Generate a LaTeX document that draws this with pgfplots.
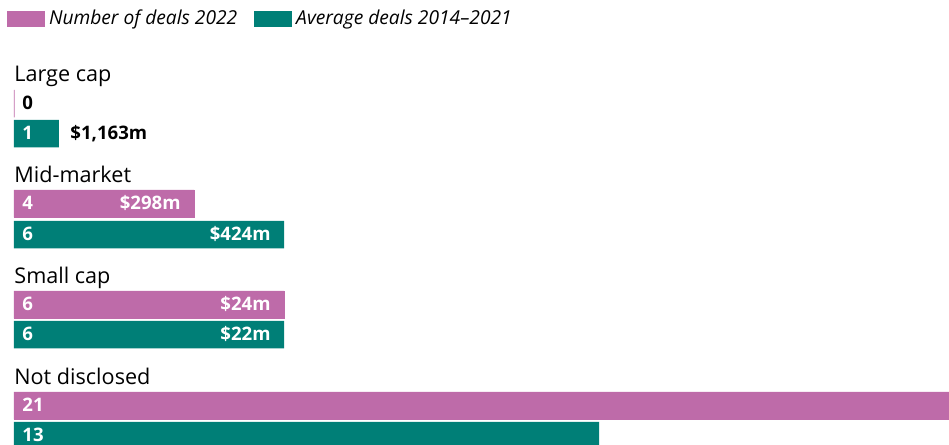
\documentclass[border=0pt]{standalone}
\usepackage{pgfplots}
\pgfplotsset{compat=1.18}
\usepackage{fontspec}
\setmainfont{Open Sans}
\definecolor{pinkc}{HTML}{BE6BA9}
\definecolor{tealc}{HTML}{007F77}
\begin{document}
\begin{tikzpicture}
\begin{axis}[
  scale only axis,
  width=474.5pt, height=222.5pt,
  xmin=-0.3111, xmax=20.7778,
  ymin=0, ymax=445, y dir=reverse,
  axis lines=none, ticks=none,
  clip=true,
  xbar, bar width=27.5, bar shift=0pt,
  legend style={at={(rel axis cs:0.0,1)}, anchor=north west, draw=none, fill=none,
    inner sep=0pt, outer sep=0pt, row sep=0pt,
    font=\fontsize{9.6}{11}\selectfont\itshape,
    /tikz/every even column/.append style={column sep=6.5pt},
    xshift=3.5pt, yshift=-3pt},
  legend columns=2,
  legend cell align=left,
  legend image code/.code={\path[#1,draw=none] (0pt,-4pt) rectangle (19pt,4pt);},
]
\addplot[fill=pinkc, draw=pinkc, line width=0.2pt] coordinates {(0,103.5) (4,203.5) (6,304.5) (21,405.5)};
\addlegendentry{Number of deals 2022}
\addplot[fill=tealc, draw=none] coordinates {(1,133.5) (6,234.5) (6,334.5) (13,435.5)};
\addlegendentry{Average deals 2014--2021}

% category labels
\tikzset{cat/.style={anchor=base west, inner sep=0pt, font=\fontsize{10.8}{12}\selectfont}}
\node[cat] at (axis cs:0,81) {Large cap};
\node[cat] at (axis cs:0,182.5) {Mid-market};
\node[cat] at (axis cs:0,283) {Small cap};
\node[cat] at (axis cs:0,384) {Not disclosed};
% count labels
\tikzset{cnt/.style={anchor=base west, inner sep=0pt, xshift=4pt, yshift=-3.2pt, font=\fontsize{9.3}{10}\selectfont\bfseries}}
\node[cnt, text=black] at (axis cs:0,103.5) {0};
\node[cnt, text=white] at (axis cs:0,133.5) {1};
\node[cnt, text=white] at (axis cs:0,203.5) {4};
\node[cnt, text=white] at (axis cs:0,234.5) {6};
\node[cnt, text=white] at (axis cs:0,304.5) {6};
\node[cnt, text=white] at (axis cs:0,334.5) {6};
\node[cnt, text=white] at (axis cs:0,405.5) {21};
\node[cnt, text=white] at (axis cs:0,435.5) {13};
% value labels
\tikzset{val/.style={anchor=base east, inner sep=0pt, xshift=-6.5pt, yshift=-3.2pt, font=\fontsize{9.3}{10}\selectfont\bfseries, text=white}}
\node[anchor=base west, inner sep=0pt, xshift=5.5pt, yshift=-3.2pt, font=\fontsize{9.3}{10}\selectfont\bfseries] at (axis cs:1,133.5) {\$1,163m};
\node[val] at (axis cs:4,203.5) {\$298m};
\node[val] at (axis cs:6,234.5) {\$424m};
\node[val] at (axis cs:6,304.5) {\$24m};
\node[val] at (axis cs:6,334.5) {\$22m};
\end{axis}
\pgfresetboundingbox
\useasboundingbox (current axis.south west) rectangle (current axis.north east);
\end{tikzpicture}
\end{document}
